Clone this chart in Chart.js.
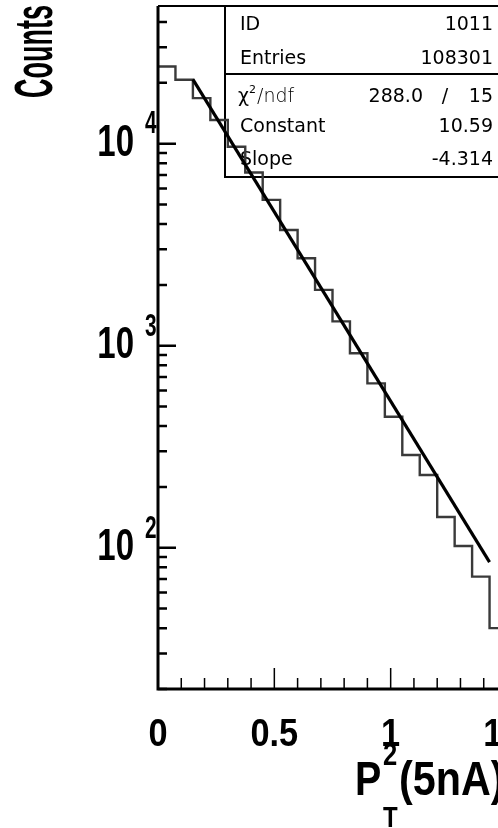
<!DOCTYPE html>
<html>
<head>
<meta charset="utf-8">
<script src="https://cdn.jsdelivr.net/npm/chart.js@4.4.1/dist/chart.umd.min.js"></script>
<style>
  html, body { margin: 0; padding: 0; background: #fff; overflow: hidden; }
  #wrap { width: 498px; height: 828px; overflow: hidden; }
</style>
</head>
<body>
<div id="wrap"><canvas id="ptChart" width="560" height="828"></canvas></div>
<script>
// histogram 1011: pT^2 spectrum, 20 bins of 0.075
const binLow = [0, 0.075, 0.15, 0.225, 0.3, 0.375, 0.45, 0.525, 0.6, 0.675,
                0.75, 0.825, 0.9, 0.975, 1.05, 1.125, 1.2, 1.275, 1.35, 1.425];
const counts = [24100, 20700, 16800, 13100, 9650, 7200, 5270, 3740, 2710, 1890,
                1320, 917, 651, 445, 288, 229, 142, 102, 72, 40];
const xMin = 0, xMax = 1.5;
const yMin = 20, yMax = 48000;
const xTickValues = [0, 0.5, 1, 1.5];
const xTickLabels = ['0', '0.5', '1', '1.5'];
const yTickExponents = [2, 3, 4];

// exponential fit, parameters as printed in the stats box
const fitConstant = 10.59;
const fitSlope = -4.314;
const fitRange = [0.15, 1.425];
const statsTop = [['ID', '1011'], ['Entries', '108301']];
const statsFit = [['Constant', '10.59'], ['Slope', '-4.314']];
const chi2 = '288.0', ndf = '15';

const AXFONT = "'Liberation Sans', Arial, sans-serif";
const STATFONT = "'DejaVu Sans', sans-serif";

const histPoints = binLow.map((x, i) => ({ x: x, y: counts[i] }));
histPoints.push({ x: xMax, y: counts[counts.length - 1] });

const fitPoints = fitRange.map(x => ({ x: x, y: Math.exp(fitConstant + fitSlope * x) }));

// text squeezed horizontally, the axis lettering is a condensed bold face
function narrowText(ctx, txt, x, y, sx, font, align, baseline) {
  ctx.save();
  ctx.translate(x, y);
  ctx.scale(sx, 1);
  ctx.font = font;
  ctx.textAlign = align;
  ctx.textBaseline = baseline || 'alphabetic';
  ctx.fillText(txt, 0, 0);
  ctx.restore();
}

const rootFrame = {
  id: 'rootFrame',
  beforeDatasetsDraw(chart) {
    const ctx = chart.ctx;
    const a = chart.chartArea;
    const boxL = 225, boxB = 177, sep = 74;
    ctx.save();
    ctx.strokeStyle = '#000';
    ctx.lineWidth = 2;
    ctx.beginPath();
    ctx.moveTo(a.right, boxB);
    ctx.lineTo(boxL, boxB);
    ctx.lineTo(boxL, a.top);
    ctx.moveTo(boxL, sep);
    ctx.lineTo(a.right, sep);
    ctx.stroke();

    ctx.fillStyle = '#000';
    ctx.font = '19px ' + STATFONT;
    ctx.textBaseline = 'middle';
    const rowsY = [25, 59, 127, 160];
    const rows = statsTop.concat(statsFit);
    rows.forEach((r, i) => {
      ctx.textAlign = 'left';
      ctx.fillText(r[0], 240, rowsY[i]);
      ctx.textAlign = 'right';
      ctx.fillText(r[1], 493, rowsY[i]);
    });
    // chi2 / ndf row
    ctx.textAlign = 'left';
    ctx.fillText('\u03c7', 238, 97);
    ctx.font = '11px ' + STATFONT;
    ctx.fillText('2', 249, 90);
    ctx.font = '300 19px ' + STATFONT;
    ctx.fillText('/ndf', 257, 97);
    ctx.font = '19px ' + STATFONT;
    ctx.textAlign = 'right';
    ctx.fillText(chi2, 423, 97);
    ctx.textAlign = 'center';
    ctx.fillText('/', 445, 97);
    ctx.textAlign = 'right';
    ctx.fillText(ndf, 493, 97);
    ctx.restore();
  },
  afterDatasetsDraw(chart) {
    const ctx = chart.ctx;
    const a = chart.chartArea;
    const xs = chart.scales.x, ys = chart.scales.y;
    ctx.save();
    ctx.strokeStyle = '#000';

    // frame
    ctx.lineWidth = 2;
    ctx.beginPath();
    ctx.moveTo(a.left, a.top);
    ctx.lineTo(a.right, a.top);
    ctx.stroke();
    ctx.lineWidth = 3;
    ctx.beginPath();
    ctx.moveTo(a.left, a.top);
    ctx.lineTo(a.left, a.bottom);
    ctx.lineTo(a.right, a.bottom);
    ctx.stroke();

    // log ticks on the y axis, pointing into the frame
    ctx.lineWidth = 2.5;
    ctx.beginPath();
    for (let e = Math.floor(Math.log10(yMin)); e <= Math.ceil(Math.log10(yMax)); e++) {
      for (let k = 1; k <= 9; k++) {
        const v = k * Math.pow(10, e);
        if (v < yMin || v > yMax) continue;
        const py = ys.getPixelForValue(v);
        ctx.moveTo(a.left, py);
        ctx.lineTo(a.left + (k === 1 ? 18 : 9), py);
      }
    }
    ctx.stroke();

    // x ticks every 0.1, longer at each 0.5
    ctx.lineWidth = 1.5;
    ctx.beginPath();
    for (let i = 1; i <= 15; i++) {
      const px = xs.getPixelForValue(i / 10);
      ctx.moveTo(px, a.bottom);
      ctx.lineTo(px, a.bottom - (i % 5 === 0 ? 21 : 11));
    }
    ctx.stroke();

    ctx.fillStyle = '#000';
    // x tick labels
    xTickValues.forEach((v, i) => {
      narrowText(ctx, xTickLabels[i], xs.getPixelForValue(v), 746, 0.88,
                 'bold 39px ' + AXFONT, 'center');
    });

    // y labels 10^n
    yTickExponents.forEach(e => {
      const py = ys.getPixelForValue(Math.pow(10, e));
      narrowText(ctx, '10', 134, py, 0.75, 'bold 44px ' + AXFONT, 'right', 'middle');
      narrowText(ctx, String(e), 145, py - 19, 0.65, 'bold 32px ' + AXFONT, 'left', 'middle');
    });

    // y axis title, rotated
    ctx.save();
    ctx.translate(37, 5);
    ctx.rotate(-Math.PI / 2);
    ctx.scale(0.5, 1);
    ctx.font = 'bold 54px ' + AXFONT;
    ctx.textAlign = 'right';
    ctx.textBaseline = 'middle';
    ctx.fillText('Counts', 0, 0);
    ctx.restore();

    // x axis title P_T^2 (5nA)
    narrowText(ctx, 'P', 355, 795, 0.82, 'bold 48px ' + AXFONT, 'left');
    narrowText(ctx, '2', 383, 765, 0.8, 'bold 32px ' + AXFONT, 'left');
    narrowText(ctx, 'T', 383, 827, 0.8, 'bold 30px ' + AXFONT, 'left');
    narrowText(ctx, '(5nA)', 399, 795, 0.86, 'bold 48px ' + AXFONT, 'left');
    ctx.restore();
  }
};

new Chart(document.getElementById('ptChart'), {
  type: 'line',
  data: {
    datasets: [
      {
        label: 'fit',
        data: fitPoints,
        borderColor: '#000',
        borderWidth: 3.2,
        pointRadius: 0,
        fill: false,
        order: 0
      },
      {
        label: 'ID 1011',
        data: histPoints,
        stepped: 'before',
        borderColor: '#3a3a3a',
        borderWidth: 2.4,
        pointRadius: 0,
        fill: false,
        order: 1
      }
    ]
  },
  options: {
    responsive: false,
    animation: false,
    devicePixelRatio: 1,
    layout: { padding: { top: 6, right: 53, left: 0, bottom: 0 } },
    plugins: { legend: { display: false }, tooltip: { enabled: false } },
    scales: {
      x: {
        type: 'linear',
        min: xMin,
        max: xMax,
        grid: { display: false, drawTicks: false },
        border: { display: false },
        ticks: { display: false },
        afterFit(s) { s.height = 139; }
      },
      y: {
        type: 'logarithmic',
        min: yMin,
        max: yMax,
        grid: { display: false, drawTicks: false },
        border: { display: false },
        ticks: { display: false },
        afterFit(s) { s.width = 158; }
      }
    }
  },
  plugins: [rootFrame]
});
</script>
</body>
</html>
